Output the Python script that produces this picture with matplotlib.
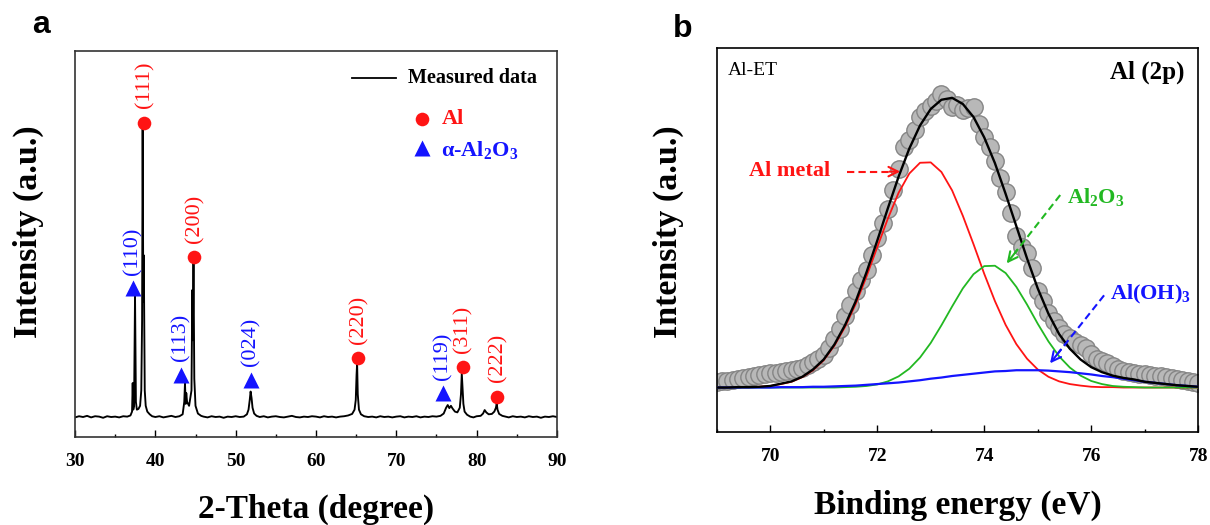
import matplotlib
matplotlib.use('Agg')
import matplotlib.pyplot as plt
from matplotlib.ticker import MultipleLocator

plt.rcParams['font.family'] = ['Liberation Serif', 'DejaVu Serif']
plt.rcParams['mathtext.fontset'] = 'custom'
plt.rcParams['mathtext.rm'] = 'Liberation Serif:bold'
plt.rcParams['mathtext.it'] = 'Liberation Serif:italic:bold'
plt.rcParams['mathtext.bf'] = 'Liberation Serif:bold'

# ---------------- Panel a : XRD ----------------
xrd_two_theta = [30.0, 30.5, 31.0, 31.5, 32.0, 32.5, 33.0, 33.5, 34.0, 34.5, 35.0, 35.5, 36.0, 36.5,
                 36.9, 37.1, 37.18, 37.25, 37.35, 37.47, 37.58, 37.7, 37.9, 38.1, 38.25, 38.35, 38.42,
                 38.5, 38.56, 38.68, 38.8, 39.0, 39.3, 39.6, 40.0, 40.5, 41.0, 41.5, 42.0, 42.5, 43.0,
                 43.4, 43.6, 43.69, 43.78, 43.85, 43.95, 44.2, 44.5, 44.6, 44.67, 44.75, 44.85, 45.0,
                 45.3, 45.7, 46.0, 46.5, 47.0, 47.5, 48.0, 48.5, 49.0, 49.5, 50.0, 50.5, 51.0, 51.4,
                 51.6, 51.75, 51.86, 51.98, 52.1, 52.3, 52.6, 53.0, 53.5, 54.0, 54.5, 55.0, 55.5, 56.0,
                 56.5, 57.0, 57.5, 58.0, 58.5, 59.0, 59.5, 60.0, 60.5, 61.0, 61.5, 62.0, 62.5, 63.0,
                 63.5, 64.0, 64.5, 64.8, 64.95, 65.05, 65.12, 65.2, 65.35, 65.6, 66.0, 66.5, 67.0, 67.5,
                 68.0, 68.5, 69.0, 69.5, 70.0, 70.5, 71.0, 71.5, 72.0, 72.5, 73.0, 73.5, 74.0, 74.5,
                 75.0, 75.5, 75.9, 76.2, 76.4, 76.6, 76.8, 77.0, 77.3, 77.6, 77.9, 78.05, 78.15, 78.25,
                 78.35, 78.5, 78.8, 79.2, 79.6, 80.0, 80.5, 80.8, 81.0, 81.2, 81.5, 81.9, 82.2, 82.4,
                 82.5, 82.6, 82.8, 83.2, 83.6, 84.0, 84.5, 85.0, 85.5, 86.0, 86.5, 87.0, 87.5, 88.0,
                 88.5, 89.0, 89.5, 90.0]
xrd_intensity = [5.0, 5.3, 5.1, 5.4, 5.0, 5.3, 5.2, 4.9, 5.3, 5.1, 5.2, 5.0, 5.3, 5.2,
                 5.5, 6.5, 13.9, 7.0, 8.0, 36.7, 9.0, 7.0, 7.2, 8.0, 12.0, 30.0, 80.3,
                 35.0, 47.0, 12.0, 8.0, 6.5, 5.8, 5.3, 5.1, 5.3, 5.0, 5.2, 5.4, 5.1, 5.3,
                 5.8, 9.0, 13.8, 8.5, 11.3, 9.0, 8.0, 12.0, 38.0, 25.0, 45.0, 15.0, 8.0,
                 6.0, 5.4, 5.2, 5.0, 5.3, 5.1, 5.2, 4.9, 5.2, 5.1, 5.3, 5.1, 5.2, 5.8,
                 7.0, 9.5, 11.7, 10.0, 7.5, 6.0, 5.4, 5.1, 5.3, 5.0, 5.2, 5.3, 5.1, 5.0,
                 5.2, 5.4, 5.1, 5.0, 5.2, 5.1, 5.3, 5.2, 5.0, 5.3, 5.1, 5.2, 5.0, 5.2,
                 5.3, 5.5, 5.9, 7.0, 9.5, 16.0, 19.0, 11.0, 7.0, 5.8, 5.3, 5.1, 5.2, 5.0,
                 5.3, 5.1, 5.2, 5.0, 5.2, 5.3, 5.0, 5.2, 5.1, 5.3, 5.0, 5.2, 5.1, 5.3,
                 5.2, 5.4, 6.0, 7.5, 8.2, 7.4, 8.0, 7.3, 6.5, 6.3, 7.5, 11.0, 16.4, 12.5,
                 8.5, 6.5, 5.7, 5.2, 5.0, 5.3, 5.4, 6.0, 6.9, 6.3, 5.8, 5.9, 6.5, 7.5,
                 8.6, 7.0, 5.9, 5.4, 5.2, 5.0, 5.3, 5.1, 5.2, 5.0, 5.3, 5.1, 5.2, 4.9,
                 5.2, 5.1, 5.3, 5.1]

al_peak_x = [38.63, 44.85, 65.2, 78.26, 82.57]
al_peak_y = [81.3, 46.5, 20.3, 18.0, 10.4]
al_labels = ['(111)', '(200)', '(220)', '(311)', '(222)']

alumina_peak_x = [37.26, 43.15, 51.9, 75.85]
alumina_peak_y = [38.4, 16.0, 14.7, 11.2]
alumina_labels = ['(110)', '(113)', '(024)', '(119)']

xrd_xticks = [30, 40, 50, 60, 70, 80, 90]

# ---------------- Panel b : XPS Al 2p ----------------
be_points = [69.0, 69.1, 69.2, 69.3, 69.4, 69.5, 69.6, 69.7, 69.8, 69.9,
             70.0, 70.1, 70.2, 70.3, 70.4, 70.5, 70.6, 70.7, 70.8, 70.9,
             71.0, 71.1, 71.2, 71.3, 71.4, 71.5, 71.6, 71.7, 71.8, 71.9,
             72.0, 72.1, 72.2, 72.3, 72.4, 72.5, 72.6, 72.7, 72.8, 72.9,
             73.0, 73.1, 73.2, 73.3, 73.4, 73.5, 73.6, 73.7, 73.8, 73.9,
             74.0, 74.1, 74.2, 74.3, 74.4, 74.5, 74.6, 74.7, 74.8, 74.9,
             75.0, 75.1, 75.2, 75.3, 75.4, 75.5, 75.6, 75.7, 75.8, 75.9,
             76.0, 76.1, 76.2, 76.3, 76.4, 76.5, 76.6, 76.7, 76.8, 76.9,
             77.0, 77.1, 77.2, 77.3, 77.4, 77.5, 77.6, 77.7, 77.8, 77.9, 78.0]
xps_counts = [13.0, 13.2, 13.3, 13.5, 13.7, 14.0, 14.3, 14.6, 14.8, 15.0,
              15.2, 15.4, 15.6, 15.8, 16.0, 16.3, 16.7, 17.3, 18.2, 19.0,
              20.0, 21.8, 24.2, 26.8, 30.0, 33.0, 36.5, 39.5, 42.0, 46.0,
              50.5, 54.2, 58.0, 63.0, 68.5, 74.0, 76.0, 78.5, 81.8, 83.5,
              84.8, 86.0, 87.8, 86.5, 84.5, 85.0, 83.8, 84.2, 84.5, 80.0,
              76.8, 74.0, 70.5, 66.0, 62.5, 57.0, 51.0, 48.0, 46.5, 42.5,
              36.5, 34.0, 31.0, 28.8, 27.0, 25.5, 24.3, 23.3, 22.5, 21.8,
              20.3, 19.0, 18.3, 17.8, 17.0, 16.3, 15.8, 15.5, 15.2, 15.0,
              14.9, 14.8, 14.6, 14.4, 14.3, 14.0, 13.7, 13.5, 13.3, 13.0, 12.6]

be_fit = [69.0, 69.2, 69.4, 69.6, 69.8, 70.0, 70.2, 70.4, 70.6, 70.8,
          71.0, 71.2, 71.4, 71.6, 71.8, 72.0, 72.2, 72.4, 72.6, 72.8,
          73.0, 73.2, 73.4, 73.6, 73.8, 74.0, 74.2, 74.4, 74.6, 74.8,
          75.0, 75.2, 75.4, 75.6, 75.8, 76.0, 76.2, 76.4, 76.6, 76.8,
          77.0, 77.2, 77.4, 77.6, 77.8, 78.0]
fit_envelope = [11.5, 11.5, 11.6, 11.6, 11.7, 11.9, 12.5, 13.1, 14.3, 16.2,
                18.8, 22.7, 27.8, 34.0, 41.5, 49.7, 58.2, 66.4, 73.7, 79.7,
                84.0, 86.4, 86.9, 85.3, 81.9, 76.6, 69.9, 61.9, 53.5, 45.1,
                37.3, 30.7, 25.4, 21.6, 18.8, 16.8, 15.5, 14.6, 14.0, 13.6,
                13.0, 12.7, 12.4, 12.1, 11.9, 11.7]
al_metal_fit = [11.5, 11.5, 11.6, 11.6, 11.7, 11.9, 12.4, 13.0, 14.2, 16.0,
                18.6, 22.4, 27.3, 33.3, 40.4, 48.0, 55.5, 62.2, 67.2, 70.0,
                70.1, 67.6, 62.8, 56.2, 48.8, 41.1, 34.0, 27.8, 22.8, 19.0,
                16.2, 14.3, 13.1, 12.4, 12.0, 11.7, 11.6, 11.6, 11.5, 11.5,
                11.5, 11.5, 11.5, 11.5, 11.5, 11.5]
al2o3_fit = [11.5, 11.5, 11.5, 11.5, 11.5, 11.5, 11.5, 11.5, 11.5, 11.5,
             11.5, 11.5, 11.6, 11.7, 11.9, 12.3, 13.1, 14.4, 16.4, 19.3,
             23.1, 27.7, 32.6, 37.3, 41.0, 43.1, 43.2, 41.3, 37.7, 33.1,
             28.1, 23.5, 19.6, 16.7, 14.6, 13.2, 12.4, 11.9, 11.7, 11.6,
             11.5, 11.5, 11.5, 11.5, 11.5, 11.5]
aloh3_fit = [11.5, 11.5, 11.5, 11.5, 11.5, 11.5, 11.6, 11.6, 11.6, 11.7,
             11.7, 11.8, 11.9, 12.0, 12.2, 12.4, 12.6, 12.8, 13.1, 13.4,
             13.8, 14.1, 14.5, 14.8, 15.1, 15.4, 15.7, 15.8, 16.0, 16.0,
             16.0, 15.9, 15.7, 15.5, 15.2, 14.9, 14.5, 14.2, 13.8, 13.4,
             13.0, 12.7, 12.4, 12.1, 11.9, 11.7]

xps_xticks = [70, 72, 74, 76, 78]

# annotation anchor points (label position, arrow start, arrow end) in data units
metal_label = (69.61, 67.9)
metal_arrow = [(71.43, 67.7), (72.43, 67.7)]
oxide_label = (75.54, 61.1)
oxide_arrow = [(75.42, 61.6), (74.42, 43.8)]
hydrox_label = (76.35, 35.6)
hydrox_arrow = [(76.24, 35.5), (75.23, 17.8)]

RED = '#ff1414'
BLUE = '#1414ff'
GREEN = '#22b822'

fig = plt.figure(figsize=(12.1, 5.25), dpi=100)
ax1 = fig.add_axes([0.0620, 0.1682, 0.3983, 0.7352])
ax2 = fig.add_axes([0.5923, 0.1777, 0.3980, 0.7318])

# ---- panel a ----
ax1.plot(xrd_two_theta, xrd_intensity, color='black', lw=1.35, zorder=2)
ax1.plot(al_peak_x, al_peak_y, 'o', color=RED, ms=9.8, mec='none', zorder=3)
ax1.plot(alumina_peak_x, alumina_peak_y, '^', color=BLUE, ms=12, mec='none', zorder=3)
for x, y, lab in zip(al_peak_x, al_peak_y, al_labels):
    ax1.annotate(lab, (x, y), xytext=(0.5, 10.5), textcoords='offset points', rotation=90,
                 ha='center', va='bottom', color=RED, fontsize=16)
for x, y, lab in zip(alumina_peak_x, alumina_peak_y, alumina_labels):
    ax1.annotate(lab, (x, y), xytext=(0, 10), textcoords='offset points', rotation=90,
                 ha='center', va='bottom', color=BLUE, fontsize=16)

ax1.plot([0.574, 0.667], [0.9285, 0.9285], transform=ax1.transAxes, color='black', lw=1.3)
ax1.text(0.691, 0.9285, 'Measured data', transform=ax1.transAxes, fontsize=14.5,
         fontweight='bold', ha='left', va='center')
ax1.plot([0.719], [0.823], 'o', color=RED, ms=9.8, mec='none', transform=ax1.transAxes)
ax1.text(0.760, 0.823, 'Al', transform=ax1.transAxes, fontsize=16, fontweight='bold',
         color=RED, ha='left', va='center')
ax1.plot([0.719], [0.747], '^', color=BLUE, ms=12, mec='none', transform=ax1.transAxes)
ax1.text(0.760, 0.743, r'α-Al$_2$O$_3$', transform=ax1.transAxes, fontsize=16,
         fontweight='bold', color=BLUE, ha='left', va='center')

ax1.set_xlim(30, 90)
ax1.set_ylim(0, 100)
ax1.set_xticks(xrd_xticks)
ax1.xaxis.set_minor_locator(MultipleLocator(5))
ax1.set_xlabel('2-Theta (degree)', fontsize=24, fontweight='bold')
ax1.xaxis.set_label_coords(0.5, -0.149)
ax1.set_ylabel('Intensity (a.u.)', fontsize=24.5, fontweight='bold')
ax1.yaxis.set_label_coords(-0.0645, 0.5316)
for sp in ax1.spines.values():
    sp.set_color('#333333')
    sp.set_linewidth(1.2)

# ---- panel b ----
ax2.plot(be_points, xps_counts, 'o', ms=12.5, mfc='#b8b8b8', mec='#858585', mew=1.0, zorder=2)
ax2.plot(be_fit, al_metal_fit, color=RED, lw=1.3, zorder=3)
ax2.plot(be_fit, al2o3_fit, color=GREEN, lw=1.3, zorder=3)
ax2.plot(be_fit, aloh3_fit, color=BLUE, lw=1.6, zorder=3)
ax2.plot(be_fit, fit_envelope, color='black', lw=1.7, zorder=4)

for lab, pos, arr, col in [('Al metal', metal_label, metal_arrow, RED),
                           ('Al$_2$O$_3$', oxide_label, oxide_arrow, GREEN),
                           ('Al(OH)$_3$', hydrox_label, hydrox_arrow, BLUE)]:
    ax2.text(pos[0], pos[1], lab, color=col, fontsize=16, fontweight='bold', ha='left', va='center',
             zorder=6)
    (x0, y0), (x1, y1) = arr
    ax2.plot([x0, x0 + 0.85 * (x1 - x0)], [y0, y0 + 0.85 * (y1 - y0)], color=col, lw=1.5,
             ls=(0, (3.5, 2.0)), zorder=6)
    ax2.annotate('', xy=(x1, y1), xytext=(x0 + 0.8 * (x1 - x0), y0 + 0.8 * (y1 - y0)),
                 arrowprops=dict(arrowstyle='->', color=col, lw=1.5, mutation_scale=17,
                                 shrinkA=0, shrinkB=0), zorder=6)

ax2.text(0.024, 0.9414, 'Al-ET', transform=ax2.transAxes, fontsize=14, ha='left', va='center')
ax2.text(0.972, 0.936, 'Al (2p)', transform=ax2.transAxes, fontsize=18, fontweight='bold',
         ha='right', va='center')

ax2.set_xlim(69, 78)
ax2.set_ylim(0, 100)
ax2.set_xticks(xps_xticks)
ax2.xaxis.set_minor_locator(MultipleLocator(1))
ax2.set_xlabel('Binding energy (eV)', fontsize=24, fontweight='bold')
ax2.xaxis.set_label_coords(0.5, -0.150)
ax2.set_ylabel('Intensity (a.u.)', fontsize=24.5, fontweight='bold')
ax2.yaxis.set_label_coords(-0.0681, 0.5206)
for sp in ax2.spines.values():
    sp.set_color('black')
    sp.set_linewidth(1.2)

for ax in (ax1, ax2):
    ax.tick_params(axis='x', which='major', direction='in', length=5, width=1.0, pad=12,
                   labelsize=14, top=False)
    ax.tick_params(axis='x', which='minor', direction='in', length=2.5, width=1.0, top=False)
    ax.tick_params(axis='y', which='both', left=False, right=False, labelleft=False)
    for t in ax.get_xticklabels():
        t.set_fontweight('bold')

fig.text(41 / 1210, 1 - 33.3 / 525, 'a', fontsize=23, fontweight='bold', family='Liberation Sans',
         ha='center', va='baseline')
fig.text(682.5 / 1210, 1 - 36.7 / 525, 'b', fontsize=23, fontweight='bold', family='Liberation Sans',
         ha='center', va='baseline')

fig.savefig('out.png', dpi=100)
